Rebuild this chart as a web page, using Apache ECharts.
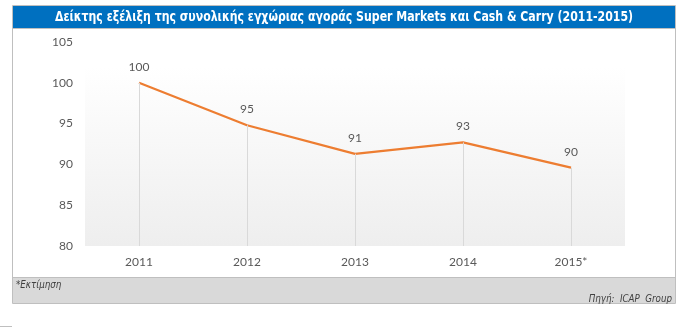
<!DOCTYPE html>
<html><head><meta charset="utf-8">
<script src="https://cdn.jsdelivr.net/npm/echarts@6/dist/echarts.min.js"></script>
<style>html,body{margin:0;padding:0;background:#fff;}#c{width:691px;height:328px;}</style>
</head><body><div id="c"></div>
<script>
const titleText = 'Δείκτης εξέλιξη της συνολικής εγχώριας αγοράς Super Markets και Cash & Carry (2011-2015)';
const categories = ['2011', '2012', '2013', '2014', '2015*'];
const values = [100, 94.8, 91.3, 92.7, 89.6];
const labels = ['100', '95', '91', '93', '90'];
const yMin = 80, yMax = 105, yStep = 5;
const noteText = '*Εκτίμηση';
const sourceText = 'Πηγή:  ICAP  Group';

const chart = echarts.init(document.getElementById('c'), null, {renderer: 'canvas'});
const font = 'Lato, "Open Sans", sans-serif';
const narrow = '"Liberation Sans Narrow", "DejaVu Sans Condensed", "DejaVu Sans", sans-serif';
chart.setOption({
  animation: false,
  backgroundColor: '#ffffff',
  graphic: [
    {type: 'rect', z: -10, shape: {x: 12.5, y: 5.5, width: 663, height: 298}, style: {fill: '#ffffff', stroke: '#bfbfbf', lineWidth: 1}},
    {type: 'rect', z: -5, shape: {x: 13, y: 6, width: 662, height: 22}, style: {fill: '#0070c0'}},
    {type: 'line', z: -5, shape: {x1: 13, y1: 28.5, x2: 675, y2: 28.5}, style: {stroke: '#bfbfbf', lineWidth: 1}},
    {type: 'rect', z: -5, shape: {x: 13, y: 278, width: 662, height: 25}, style: {fill: '#d9d9d9'}},
    {type: 'line', z: -5, shape: {x1: 13, y1: 277.5, x2: 675, y2: 277.5}, style: {stroke: '#bfbfbf', lineWidth: 1}},
    {type: 'line', z: -5, shape: {x1: 0, y1: 326.5, x2: 12, y2: 326.5}, style: {stroke: '#bfbfbf', lineWidth: 1}},
    {type: 'text', z: 5, x: 344, y: 17, scaleX: 0.87,
      style: {text: titleText, fill: '#ffffff', font: 'bold 14px ' + narrow, textAlign: 'center', textVerticalAlign: 'middle'}},
    {type: 'text', z: 5, x: 16, y: 285, scaleX: 0.88,
      style: {text: noteText, fill: '#404040', font: 'italic 11px ' + narrow, textVerticalAlign: 'middle'}},
    {type: 'text', z: 5, x: 672, y: 299, scaleX: 0.88,
      style: {text: sourceText, fill: '#404040', font: 'italic 11px ' + narrow, textAlign: 'right', textVerticalAlign: 'middle'}}
  ],
  grid: {
    left: 85, right: 66, top: 42, bottom: 82,
    show: true, borderWidth: 0,
    backgroundColor: new echarts.graphic.LinearGradient(0, 0, 0, 1, [
      {offset: 0, color: '#ffffff'}, {offset: 0.12, color: '#ffffff'}, {offset: 1, color: '#eeeeee'}
    ])
  },
  xAxis: {
    type: 'category', data: categories, boundaryGap: true,
    axisLine: {show: false}, axisTick: {show: false},
    axisLabel: {color: '#595959', fontSize: 12, fontFamily: font, margin: 10},
    splitLine: {show: false}
  },
  yAxis: {
    type: 'value', min: yMin, max: yMax, interval: yStep,
    axisLine: {show: false}, axisTick: {show: false},
    axisLabel: {color: '#595959', fontSize: 12, fontFamily: font, margin: 12},
    splitLine: {show: false}
  },
  series: [{
    type: 'line', data: values, symbol: 'circle', symbolSize: 2, showSymbol: true,
    itemStyle: {color: 'rgba(237,125,49,0)'},
    lineStyle: {color: '#ed7d31', width: 2.25},
    label: {show: true, position: 'top', distance: 9, color: '#595959', fontSize: 12, fontFamily: font,
      formatter: p => labels[p.dataIndex]},
    labelLayout: {hideOverlap: false},
    markLine: {
      silent: true, symbol: 'none', label: {show: false},
      lineStyle: {color: '#d9d9d9', width: 1, type: 'solid'},
      data: values.map((v, i) => [{coord: [i, yMin]}, {coord: [i, v]}])
    }
  }]
});
</script></body></html>
